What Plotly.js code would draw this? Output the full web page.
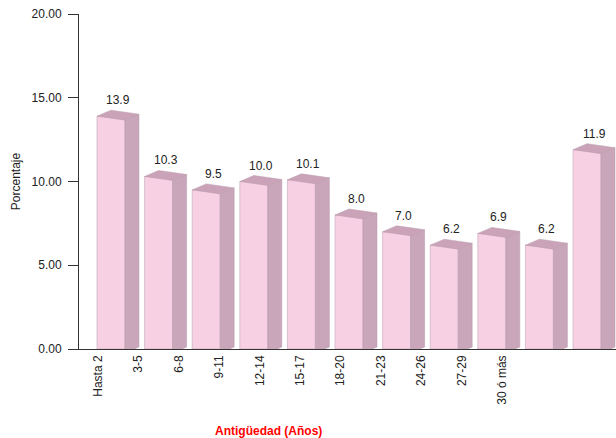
<!DOCTYPE html>
<html>
<head>
<meta charset="utf-8">
<script src="https://cdn.plot.ly/plotly-3.0.1.min.js"></script>
<style>html,body{margin:0;padding:0;background:#fff;}#chart{width:616px;height:438px;}</style>
</head>
<body>
<div id="chart"></div>
<script>
// Data
const categories = ["Hasta 2","3-5","6-8","9-11","12-14","15-17","18-20","21-23","24-26","27-29","30 ó más"];
const values = [13.9, 10.3, 9.5, 10.0, 10.1, 8.0, 7.0, 6.2, 6.9, 6.2, 11.9];
const yTitle = "Porcentaje";
const xTitle = "Antigüedad (Años)";

// 3D bar geometry (in axis units)
const W = 0.588, DX = 0.294, DY = 0.358, SL = 0.239;
const FRONT = "#f7d1e3", SIDE = "#c9a6b9", TOP = "#cba3b8", EDGE = "#b79aab";

const idx = values.map((v, i) => i);

const shapes = [];
values.forEach((v, i) => {
  const x0 = idx[i];
  // side face
  shapes.push({type: "path", xref: "x", yref: "y", layer: "above",
    path: `M ${x0+W},${v-SL} L ${x0+W+DX},${v-SL+DY} L ${x0+W+DX},${DY-SL} L ${x0+W},${-SL} Z`,
    fillcolor: SIDE, line: {color: EDGE, width: 0.5}});
  // top face
  shapes.push({type: "path", xref: "x", yref: "y", layer: "above",
    path: `M ${x0},${v} L ${x0+W},${v-SL} L ${x0+W+DX},${v-SL+DY} L ${x0+DX},${v+DY} Z`,
    fillcolor: TOP, line: {color: EDGE, width: 0.5}});
});

const annotations = values.map((v, i) => ({
  x: idx[i] + (W + DX) / 2, y: v + DY, xref: "x", yref: "y",
  text: v.toFixed(1), showarrow: false, yanchor: "bottom", yshift: 1,
  font: {family: "Liberation Sans, Arial, sans-serif", size: 12, color: "#222"}
}));
annotations.push({
  x: 0.352, y: -0.245, xref: "paper", yref: "paper", text: "<b>" + xTitle + "</b>",
  showarrow: false, xanchor: "center", yanchor: "middle",
  font: {family: "Liberation Sans, Arial, sans-serif", size: 12, color: "#ff0000"}
});

const traces = [
  {type: "bar", x: idx, y: values, width: W, offset: 0,
   marker: {color: FRONT, line: {color: EDGE, width: 0.5}},
   hoverinfo: "skip", showlegend: false},
  {type: "scatter", x: categories, y: values, xaxis: "x2", yaxis: "y",
   mode: "markers", marker: {opacity: 0}, hoverinfo: "skip", showlegend: false}
];

const layout = {
  width: 616, height: 438,
  margin: {l: 79, r: 0, t: 14, b: 89},
  paper_bgcolor: "#fff", plot_bgcolor: "#fff",
  font: {family: "Liberation Sans, Arial, sans-serif", size: 12, color: "#222"},
  showlegend: false,
  xaxis: {type: "linear", range: [-0.378, 10.903], showticklabels: false, ticks: "",
          showgrid: false, zeroline: false, showline: true, linecolor: "#333", linewidth: 1,
          fixedrange: true},
  xaxis2: {type: "category", overlaying: "x", anchor: "y", side: "bottom",
           range: [-0.47, 12.82], ticks: "", tickangle: -90, showgrid: false,
           zeroline: false, showline: false, ticklabelstandoff: 3,
           tickfont: {family: "Liberation Sans, Arial, sans-serif", size: 12, color: "#222"}},
  yaxis: {range: [0, 20], dtick: 5, tickformat: ".2f", ticks: "outside", ticklen: 10,
          tickcolor: "#333", showgrid: false, zeroline: false, showline: true,
          linecolor: "#333", linewidth: 1, ticklabelstandoff: 4,
          title: {text: yTitle, standoff: 8, font: {size: 12, color: "#222"}},
          tickfont: {size: 12, color: "#222"}},
  shapes: shapes,
  annotations: annotations
};

Plotly.newPlot("chart", traces, layout, {staticPlot: true, displayModeBar: false});
</script>
</body>
</html>
